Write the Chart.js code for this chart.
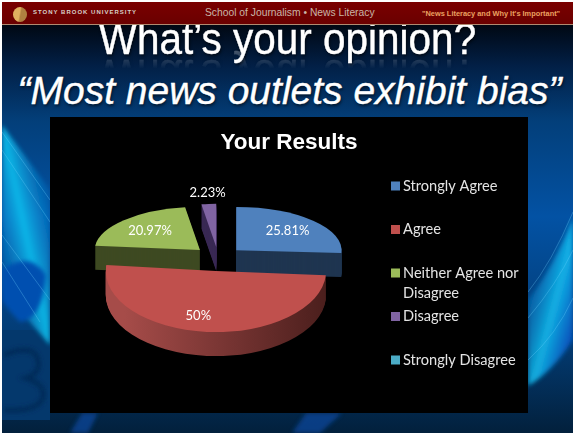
<!DOCTYPE html>
<html>
<head>
<meta charset="utf-8">
<title>Your Results</title>
<script src="https://cdn.jsdelivr.net/npm/chart.js@4"></script>
<style>
  html, body { margin: 0; padding: 0; background: #fff; }
  #slide { position: absolute; left: 2px; top: 2px; width: 571px; height: 431px; overflow: hidden; }
  #bg { position: absolute; left: -2px; top: -2px; }
  #bar { position: absolute; left: 0; top: 0; width: 571px; height: 22px; background: linear-gradient(#7a0000, #6a0000); border-bottom: 1px solid #b08a70; font-family: "Liberation Sans", sans-serif; }
  #bar span { position: absolute; white-space: nowrap; }
  #logo { position: absolute; left: 11px; top: 5px; width: 14px; height: 15px; border-radius: 50%; background: linear-gradient(100deg, #e0b060 45%, #b08040 55%); }
  #uni { left: 31px; top: 7px; font-size: 6px; font-weight: bold; letter-spacing: 1px; color: #d8d0c8; }
  #school { left: 203px; top: 5px; font-size: 10.3px; color: #c9b6a8; }
  #quote { left: 420px; top: 7px; font-size: 7.4px; font-weight: bold; color: #eba060; }
  .head { position: absolute; width: 571px; text-align: center; color: #fff; font-family: "Liberation Sans", sans-serif; white-space: nowrap; text-shadow: 1px 2px 3px rgba(0,0,0,.6); -webkit-text-stroke: .4px #fff; }
  #h1 { top: 11px; font-size: 44px; line-height: 52px; transform: scaleX(.92); -webkit-box-reflect: below -16px linear-gradient(transparent 62%, rgba(255,255,255,.3)); }
  #h2 { top: 64px; left: 2px; font-size: 39px; line-height: 50px; font-style: italic; }
  #wrap { position: absolute; left: 48px; top: 115px; width: 478px; height: 296px; background: #000; }
</style>
</head>
<body>
<div id="slide">
  <svg id="bg" width="573" height="433">
    <defs>
      <linearGradient id="base" x1="0" y1="0" x2="0" y2="1">
        <stop offset="0.05" stop-color="#00060f"/>
        <stop offset="0.15" stop-color="#021f45"/>
        <stop offset="0.28" stop-color="#033f7a"/>
        <stop offset="0.5" stop-color="#0352a4"/>
        <stop offset="0.8" stop-color="#033a70"/>
        <stop offset="1" stop-color="#02203c"/>
      </linearGradient>
      <linearGradient id="leftBand" x1="0" y1="1" x2="1" y2="0">
        <stop offset="0" stop-color="#0358c0" stop-opacity="0"/>
        <stop offset="0.5" stop-color="#12c8f5"/>
        <stop offset="1" stop-color="#0358c0" stop-opacity="0"/>
      </linearGradient>
      <linearGradient id="rightBand" x1="0" y1="0" x2="1" y2="1">
        <stop offset="0" stop-color="#0358c0" stop-opacity="0"/>
        <stop offset="0.55" stop-color="#14c4f5"/>
        <stop offset="0.9" stop-color="#0340c0"/>
        <stop offset="1" stop-color="#0340c0" stop-opacity="0"/>
      </linearGradient>
      <filter id="soft"><feGaussianBlur stdDeviation="2"/></filter>
    </defs>
    <rect width="573" height="433" fill="url(#base)"/>
    <rect x="0" y="330" width="50" height="90" fill="#04386c"/>
    <path d="M2 125 L50 190 L50 345 L2 290 Z" fill="url(#leftBand)" opacity=".85" filter="url(#soft)"/>
    <path d="M2 270 Q30 250 46 275 Q42 320 20 322 Q8 310 2 300 Z" fill="#0450b0" filter="url(#soft)"/>
    <path d="M2 132 L50 200 M2 150 L50 222 M2 235 L50 300 M2 262 L40 322" stroke="#6fd4ff" stroke-opacity=".3" stroke-width="1" fill="none"/>
    <path d="M4 355 Q28 345 36 355 Q44 372 26 378 Q48 385 42 400 Q34 412 4 410" fill="none" stroke="#032c58" stroke-width="5" filter="url(#soft)"/>
    <path d="M528 300 Q552 270 573 218 L573 340 Q552 372 528 386 Z" fill="url(#rightBand)" opacity=".85" filter="url(#soft)"/>
    <path d="M528 292 Q552 262 573 212 M528 318 Q556 285 573 250 M528 360 Q556 335 573 298" stroke="#6fd4ff" stroke-opacity=".3" stroke-width="1" fill="none"/>
    <path d="M70 433 L82 413 L98 413 L88 433 Z M292 433 L306 413 L342 413 L320 433 Z" fill="#0a4aa0" opacity=".7" filter="url(#soft)"/>
  </svg>
  <div id="h1" class="head">What’s your opinion?</div>
  <div id="h2" class="head">“Most news outlets exhibit bias”</div>
  <div id="bar">
    <div id="logo"></div>
    <span id="uni">STONY BROOK UNIVERSITY</span>
    <span id="school">School of Journalism • News Literacy</span>
    <span id="quote">"News Literacy and Why It's Important"</span>
  </div>
  <div id="wrap"><canvas id="chart"></canvas></div>
</div>
<script>
const categories = ['Strongly Agree', 'Agree', 'Neither Agree nor Disagree', 'Disagree', 'Strongly Disagree'];
const shares = [25.81, 50, 20.97, 2.23, 0];
const sliceColors = ['#4f81bd', '#c0504d', '#9bbb59', '#8064a2', '#4bacc6'];
const sideColors = ['#1f3550', '#8a3f3d', '#3e4a22', '#3a2a55', '#2a6070'];

const PIE_SHIFT = -71;       // pie sits left of the panel centre, legend is on its right
const EXPLODE = 25;          // px each slice is pulled from the centre
const DEPTH = 24;            // pie thickness
const BACK = { x: 0.975, y: 0.40 };   // back of the pie is squashed more than the front
const FRONT = { x: 1.02, y: 0.565 };
const DRAW_ORDER = [3, 2, 0, 1];
const LABEL_AT = [0.65, 0.74, 0.64, 1.26];   // fraction of the radius
const LABEL_NUDGE = [0, -11, 0, 1];

const facing = (arc) => (Math.sin((arc.startAngle + arc.endAngle) / 2) > 0 ? FRONT : BACK);

// squashes the arcs of the pie into a tilted, pulled apart, 3D looking disc
const pie3d = {
  id: 'pie3d',
  beforeDatasetsDraw(chart) {
    const { ctx } = chart;
    const arcs = chart.getDatasetMeta(0).data;

    const place = (arc, lift) => {
      const mid = (arc.startAngle + arc.endAngle) / 2;
      const tilt = facing(arc);
      ctx.translate(PIE_SHIFT + Math.cos(mid) * EXPLODE, Math.sin(mid) * EXPLODE * tilt.y + lift);
      ctx.translate(arc.x, arc.y);
      ctx.scale(tilt.x, tilt.y);
      ctx.translate(-arc.x, -arc.y);
    };

    DRAW_ORDER.forEach((i) => {
      const arc = arcs[i];
      const own = arc.options;
      let side = sideColors[i];
      if (i === 1) {
        // the rim of the big slice goes darker to the right
        side = ctx.createLinearGradient(arc.x - 90, 0, arc.x + 110, 0);
        side.addColorStop(0, '#a64c49');
        side.addColorStop(0.45, '#7c3735');
        side.addColorStop(1, '#4a1e1c');
      }
      arc.options = Object.assign({}, own, { backgroundColor: side });
      for (let k = DEPTH; k >= 1; k--) {
        ctx.save();
        place(arc, k);
        arc.draw(ctx);
        ctx.restore();
      }
      arc.options = own;
      ctx.save();
      place(arc, 0);
      arc.draw(ctx);
      ctx.restore();
    });

    ctx.font = '13px Lato';
    ctx.fillStyle = '#fff';
    ctx.textAlign = 'center';
    ctx.textBaseline = 'middle';
    arcs.forEach((arc, i) => {
      if (!shares[i]) return;
      const mid = (arc.startAngle + arc.endAngle) / 2;
      const tilt = facing(arc);
      const r = arc.outerRadius * LABEL_AT[i] + EXPLODE;
      ctx.fillText(shares[i] + '%', arc.x + PIE_SHIFT + Math.cos(mid) * r + LABEL_NUDGE[i], arc.y + Math.sin(mid) * r * tilt.y);
    });
    return false;
  },
  // legend rows keep a fixed pitch, a wrapped name just runs into the gap
  afterDraw(chart) {
    const { ctx } = chart;
    ctx.save();
    ctx.font = '14.6px Lato';
    ctx.textAlign = 'left';
    ctx.textBaseline = 'middle';
    categories.forEach((name, i) => {
      const y = 69 + i * 43.5;
      ctx.fillStyle = sliceColors[i];
      ctx.fillRect(341, y - 4.5, 9, 9);
      ctx.fillStyle = '#e4e4e4';
      let line = '';
      let row = 0;
      name.split(' ').forEach((word) => {
        const next = line ? line + ' ' + word : word;
        if (ctx.measureText(next).width > 125) {
          ctx.fillText(line, 353, y + row * 20);
          row++;
          line = word;
        } else {
          line = next;
        }
      });
      ctx.fillText(line, 353, y + row * 20);
    });
    ctx.restore();
  },
};

new Chart(document.getElementById('chart'), {
  type: 'pie',
  data: {
    labels: categories,
    datasets: [{ data: shares, backgroundColor: sliceColors, borderWidth: 0 }],
  },
  plugins: [pie3d],
  options: {
    responsive: true,
    maintainAspectRatio: false,
    animation: false,
    radius: 108,
    layout: { padding: { bottom: 63 } },
    plugins: {
      legend: { display: false },
      tooltip: { enabled: false },
      title: {
        display: true,
        text: 'Your Results',
        color: '#fff',
        font: { family: 'Liberation Sans', size: 22.5, weight: 'bold' },
        padding: { top: 12, bottom: 8 },
      },
    },
  },
});
</script>
</body>
</html>
